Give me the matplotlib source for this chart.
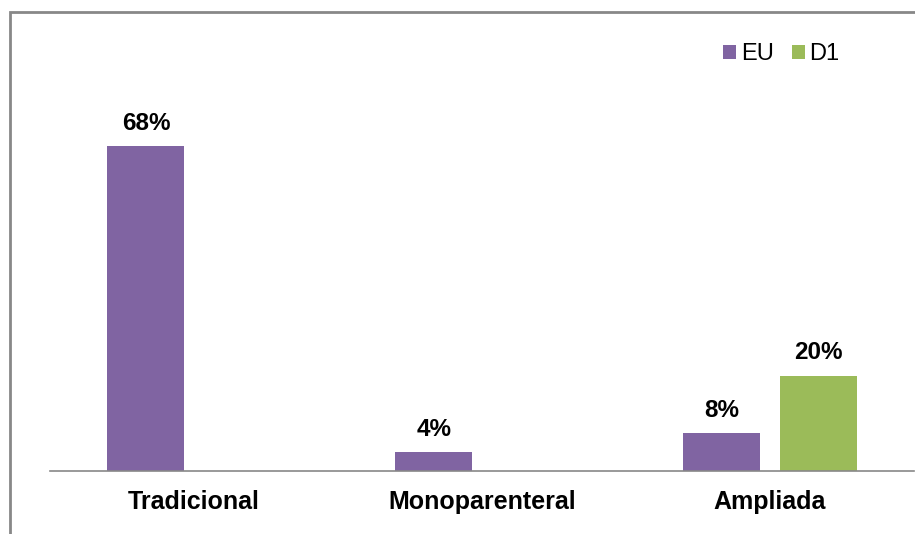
import matplotlib.pyplot as plt
import numpy as np
from matplotlib.patches import Rectangle

# data
categories = ['Tradicional', 'Monoparenteral', 'Ampliada']
eu_vals = [68, 4, 8]
d1_vals = [None, None, 20]

purple = '#8064A2'
green = '#9BBB59'

plt.rcParams['font.family'] = ['Liberation Sans', 'DejaVu Sans']

fig = plt.figure(figsize=(9.15, 5.34), dpi=100)
ax = fig.add_axes([50/915, 63/534, 864/915, 382/534])

x = np.arange(len(categories))
w = 0.267
off = 0.167

eu_bars = ax.bar(x - off, eu_vals, w, color=purple, label='EU')
d1_x = [xi + off for xi, v in zip(x, d1_vals) if v is not None]
d1_y = [v for v in d1_vals if v is not None]
d1_bars = ax.bar(d1_x, d1_y, w, color=green, label='D1')

for bars in (eu_bars, d1_bars):
    for b in bars:
        ax.annotate(f'{b.get_height():.0f}%', (b.get_x() + b.get_width()/2, b.get_height()),
                    xytext=(0, 8), textcoords='offset points', ha='center', va='bottom',
                    fontsize=17.5, fontweight='bold')

ax.set_xlim(-0.5, 2.5)
ax.set_ylim(0, 80)
ax.set_xticks(x)
ax.set_xticklabels(categories, fontsize=18, fontweight='bold')
ax.tick_params(axis='x', length=0, pad=14)
ax.set_yticks([])
for s in ('left', 'right', 'top'):
    ax.spines[s].set_visible(False)
ax.spines['bottom'].set_color('#888888')
ax.spines['bottom'].set_linewidth(1.2)

leg = ax.legend(loc='upper left', bbox_to_anchor=(714/915, 1 - 34/534), bbox_transform=fig.transFigure,
                ncol=2, frameon=False, fontsize=17, handlelength=0.55, handleheight=0.55,
                handletextpad=0.2, columnspacing=0.75, borderaxespad=0)

# outer frame (cropped at right and bottom)
fig.patches.append(Rectangle((10/915, -0.1), 1.2, 1 - 12/534 + 0.1, transform=fig.transFigure,
                             fill=False, edgecolor='#888888', linewidth=2))

fig.savefig('out.png', dpi=100)
